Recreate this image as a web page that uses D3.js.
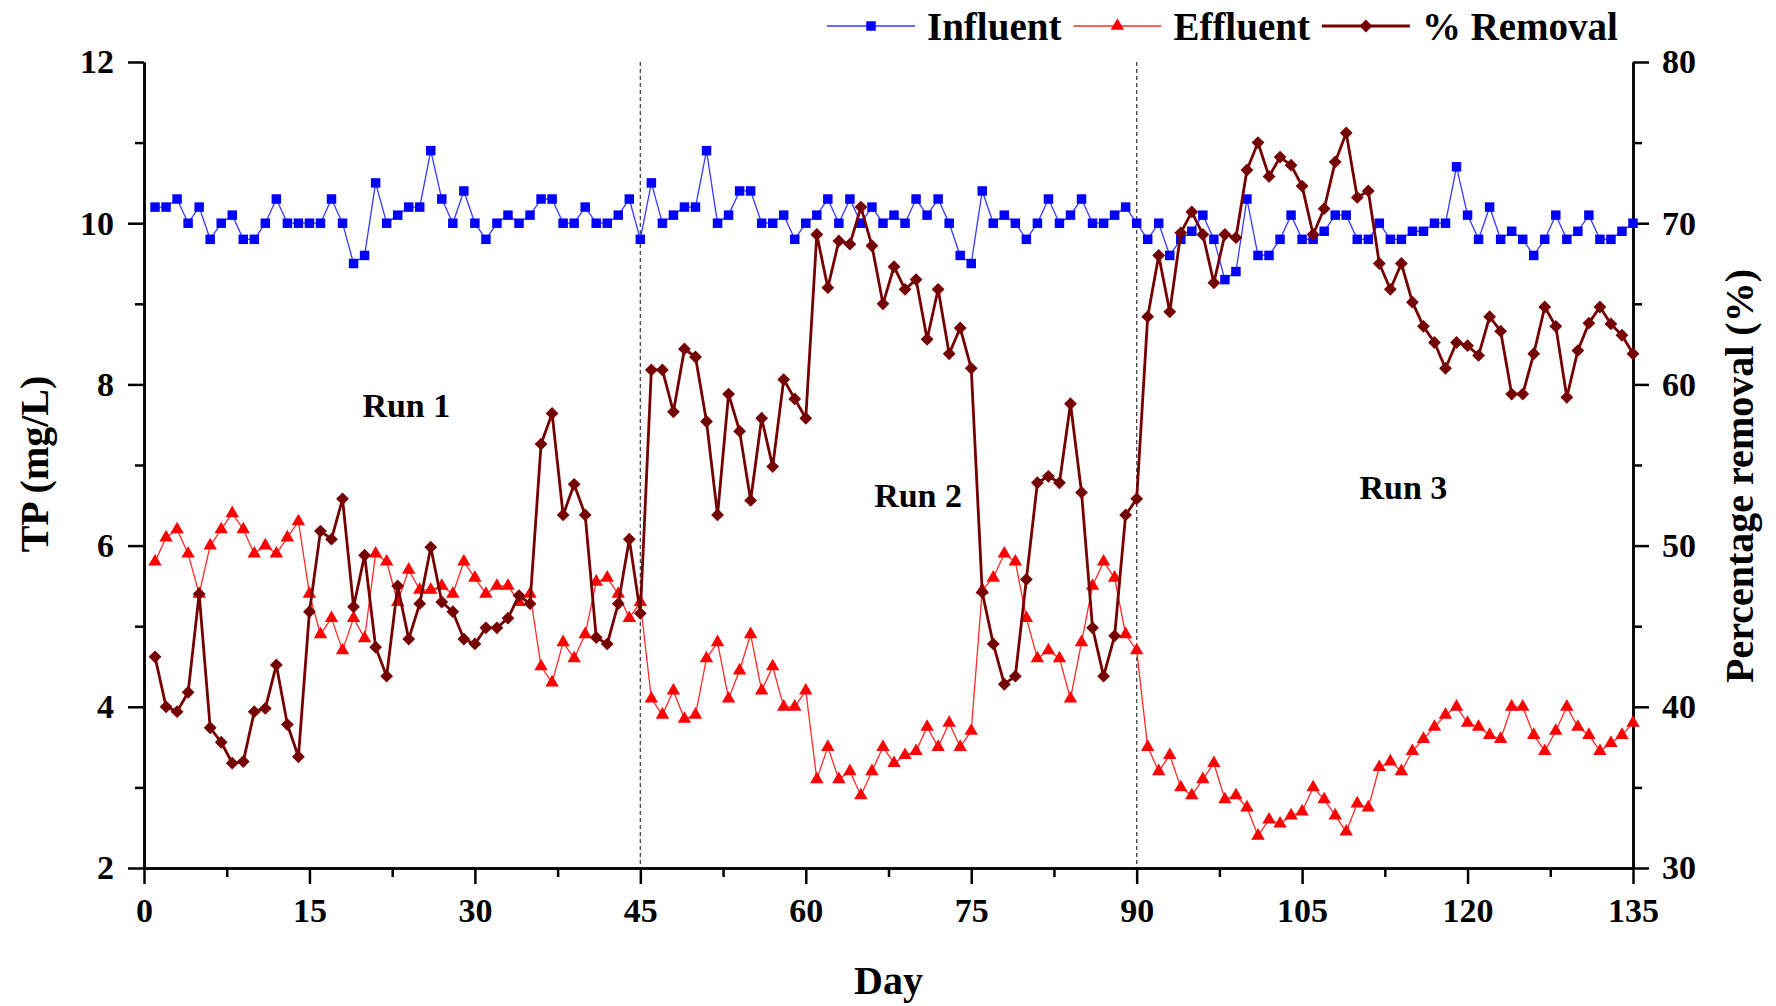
<!DOCTYPE html>
<html>
<head>
<meta charset="UTF-8">
<title>TP influent / effluent / removal</title>
<script src="https://cdnjs.cloudflare.com/ajax/libs/d3/7.8.5/d3.min.js"></script>
<style>
  body { margin: 0; background: #fff; }
  text { font-family: "Liberation Serif", "Times New Roman", serif; font-weight: bold; }
</style>
</head>
<body>
<script>
  // TP (mg/L), day 1..135
  var influent = [
    10.2, 10.2, 10.3, 10.0, 10.2, 9.8, 10.0, 10.1, 9.8, 9.8,
    10.0, 10.3, 10.0, 10.0, 10.0, 10.0, 10.3, 10.0, 9.5, 9.6,
    10.5, 10.0, 10.1, 10.2, 10.2, 10.9, 10.3, 10.0, 10.4, 10.0,
    9.8, 10.0, 10.1, 10.0, 10.1, 10.3, 10.3, 10.0, 10.0, 10.2,
    10.0, 10.0, 10.1, 10.3, 9.8, 10.5, 10.0, 10.1, 10.2, 10.2,
    10.9, 10.0, 10.1, 10.4, 10.4, 10.0, 10.0, 10.1, 9.8, 10.0,
    10.1, 10.3, 10.0, 10.3, 10.0, 10.2, 10.0, 10.1, 10.0, 10.3,
    10.1, 10.3, 10.0, 9.6, 9.5, 10.4, 10.0, 10.1, 10.0, 9.8,
    10.0, 10.3, 10.0, 10.1, 10.3, 10.0, 10.0, 10.1, 10.2, 10.0,
    9.8, 10.0, 9.6, 9.8, 9.9, 10.1, 9.8, 9.3, 9.4, 10.3,
    9.6, 9.6, 9.8, 10.1, 9.8, 9.8, 9.9, 10.1, 10.1, 9.8,
    9.8, 10.0, 9.8, 9.8, 9.9, 9.9, 10.0, 10.0, 10.7, 10.1,
    9.8, 10.2, 9.8, 9.9, 9.8, 9.6, 9.8, 10.1, 9.8, 9.9,
    10.1, 9.8, 9.8, 9.9, 10.0
  ];
  var effluent = [
    5.8, 6.1, 6.2, 5.9, 5.4, 6.0, 6.2, 6.4, 6.2, 5.9,
    6.0, 5.9, 6.1, 6.3, 5.4, 4.9, 5.1, 4.7, 5.1, 4.85,
    5.9, 5.8, 5.3, 5.7, 5.45, 5.45, 5.5, 5.4, 5.8, 5.6,
    5.4, 5.5, 5.5, 5.3, 5.4, 4.5, 4.3, 4.8, 4.6, 4.9,
    5.55, 5.6, 5.4, 5.1, 5.3, 4.1, 3.9, 4.2, 3.85, 3.9,
    4.6, 4.8, 4.1, 4.45, 4.9, 4.2, 4.5, 4.0, 4.0, 4.2,
    3.1, 3.5, 3.1, 3.2, 2.9, 3.2, 3.5, 3.3, 3.4, 3.45,
    3.75, 3.5, 3.8, 3.5, 3.7, 5.45, 5.6, 5.9, 5.8, 5.1,
    4.6, 4.7, 4.6, 4.1, 4.8, 5.5, 5.8, 5.6, 4.9, 4.7,
    3.5, 3.2, 3.4, 3.0, 2.9, 3.1, 3.3, 2.85, 2.9, 2.75,
    2.4, 2.6, 2.55, 2.65, 2.7, 3.0, 2.85, 2.65, 2.45, 2.8,
    2.75, 3.25, 3.32, 3.2, 3.45, 3.6, 3.75, 3.9, 4.0, 3.8,
    3.75, 3.65, 3.6, 4.0, 4.0, 3.65, 3.45, 3.7, 4.0, 3.75,
    3.65, 3.45, 3.55, 3.65, 3.8
  ];
  // percentage removal (%), right axis
  var removal = [
    43.1, 40.0, 39.7, 40.9, 47.0, 38.7, 37.8, 36.5, 36.6, 39.7,
    39.9, 42.6, 38.9, 36.9, 45.9, 50.9, 50.4, 52.9, 46.2, 49.4,
    43.7, 41.9, 47.5, 44.2, 46.4, 49.9, 46.5, 45.9, 44.2, 43.9,
    44.9, 44.9, 45.5, 46.9, 46.4, 56.3, 58.2, 51.9, 53.8, 51.9,
    44.3, 43.9, 46.4, 50.4, 45.8, 60.9, 60.9, 58.3, 62.2, 61.7,
    57.7, 51.9, 59.4, 57.1, 52.8, 57.9, 54.9, 60.3, 59.1, 57.9,
    69.3, 66.0, 68.9, 68.7, 71.0, 68.6, 65.0, 67.3, 65.9, 66.5,
    62.8, 65.9, 61.9, 63.5, 61.0, 47.1, 43.9, 41.4, 41.9, 47.9,
    53.9, 54.3, 53.9, 58.8, 53.3, 44.9, 41.9, 44.4, 51.9, 52.9,
    64.2, 68.0, 64.5, 69.4, 70.7, 69.3, 66.3, 69.3, 69.1, 73.3,
    75.0, 72.9, 74.1, 73.6, 72.3, 69.3, 70.9, 73.8, 75.6, 71.6,
    72.0, 67.5, 65.9, 67.5, 65.1, 63.6, 62.6, 61.0, 62.6, 62.4,
    61.8, 64.2, 63.3, 59.4, 59.4, 61.9, 64.8, 63.6, 59.2, 62.1,
    63.8, 64.8, 63.75, 63.05, 61.9
  ];
  var days = influent.map(function(_, i) { return i + 1; });

  var xTicks = [0, 15, 30, 45, 60, 75, 90, 105, 120, 135];
  var yTicks = [2, 4, 6, 8, 10, 12];
  var pctTicks = [30, 40, 50, 60, 70, 80];
  var runBreaks = [45, 90];
  var runLabels = [
    { text: "Run 1", day: 19.8, tp: 7.59 },
    { text: "Run 2", day: 66.2, tp: 6.48 },
    { text: "Run 3", day: 110.2, tp: 6.58 }
  ];

  var W = 1776, H = 1006;
  var padL = 144, padR = 1633, padT = 62, padB = 868;

  var svg = d3.select("body").append("svg")
    .attr("width", W).attr("height", H);
  svg.append("rect").attr("width", W).attr("height", H).attr("fill", "#fff");

  var x = d3.scaleLinear().domain([0, 135]).range([padL, padR]);
  var y = d3.scaleLinear().domain([2, 12]).range([padB, padT]);
  var y2 = d3.scaleLinear().domain([30, 80]).range([padB, padT]);

  // run separators
  svg.selectAll("line.run").data(runBreaks).enter().append("line")
    .attr("class", "run")
    .attr("x1", x).attr("x2", x)
    .attr("y1", padT).attr("y2", padB)
    .attr("stroke", "#444").attr("stroke-width", 1.3)
    .attr("stroke-dasharray", "4,3");

  // axes: minor ticks first, then major
  function styleAxis(g) {
    g.selectAll("path, line").attr("stroke", "#000").attr("stroke-width", 2.5);
    g.selectAll("text").attr("fill", "#000").style("font-size", "34px");
  }
  function minor(axis, scale, vals) {
    return axis(scale).tickValues(vals).tickSize(9).tickSizeOuter(0).tickFormat("");
  }

  svg.append("g").attr("transform", "translate(0," + padB + ")")
    .call(minor(d3.axisBottom, x, d3.range(7.5, 135, 15))).call(styleAxis);
  svg.append("g").attr("transform", "translate(" + padL + ",0)")
    .call(minor(d3.axisLeft, y, [3, 5, 7, 9, 11])).call(styleAxis);
  svg.append("g").attr("transform", "translate(" + padR + ",0)")
    .call(minor(d3.axisRight, y2, [35, 45, 55, 65, 75])).call(styleAxis);

  svg.append("g").attr("transform", "translate(0," + padB + ")")
    .call(d3.axisBottom(x).tickValues(xTicks).tickSize(16).tickSizeOuter(0).tickPadding(14))
    .call(styleAxis);
  svg.append("g").attr("transform", "translate(" + padL + ",0)")
    .call(d3.axisLeft(y).tickValues(yTicks).tickSize(16).tickSizeOuter(0).tickPadding(14))
    .call(styleAxis);
  svg.append("g").attr("transform", "translate(" + padR + ",0)")
    .call(d3.axisRight(y2).tickValues(pctTicks).tickSize(16).tickSizeOuter(0).tickPadding(13))
    .call(styleAxis);

  // series
  var series = [
    { name: "Influent", values: influent, scale: y, color: "#0000ff", line: "#3a3aff", width: 1.3,
      symbol: d3.symbol().type(d3.symbolSquare).size(90), rot: 0 },
    { name: "Effluent", values: effluent, scale: y, color: "#ff0000", line: "#ff2a2a", width: 1.3,
      symbol: d3.symbol().type(d3.symbolTriangle).size(78), rot: 0 },
    { name: "% Removal", values: removal, scale: y2, color: "#750000", line: "#750000", width: 2.8,
      symbol: d3.symbol().type(d3.symbolSquare).size(82), rot: 45 }
  ];

  series.forEach(function(s) {
    var line = d3.line()
      .x(function(d, i) { return x(days[i]); })
      .y(function(d) { return s.scale(d); });
    svg.append("path").datum(s.values)
      .attr("d", line)
      .attr("fill", "none")
      .attr("stroke", s.line)
      .attr("stroke-width", s.width)
      .attr("stroke-linejoin", "round");
    svg.append("g").selectAll("path").data(s.values).enter().append("path")
      .attr("d", s.symbol)
      .attr("fill", s.color)
      .attr("transform", function(d, i) {
        return "translate(" + x(days[i]) + "," + s.scale(d) + ") rotate(" + s.rot + ")";
      });
  });

  // run labels
  svg.selectAll("text.runlab").data(runLabels).enter().append("text")
    .attr("class", "runlab")
    .attr("x", function(d) { return x(d.day); })
    .attr("y", function(d) { return y(d.tp); })
    .style("font-size", "34px")
    .text(function(d) { return d.text; });

  // axis titles
  svg.append("text")
    .attr("transform", "translate(34,464) rotate(-90)")
    .attr("text-anchor", "middle").attr("dominant-baseline", "central")
    .style("font-size", "40px").text("TP (mg/L)");
  svg.append("text")
    .attr("x", (padL + padR) / 2).attr("y", 994)
    .attr("text-anchor", "middle")
    .style("font-size", "40px").text("Day");
  svg.append("text")
    .attr("transform", "translate(1739,476) rotate(-90)")
    .attr("text-anchor", "middle").attr("dominant-baseline", "central")
    .style("font-size", "40px").text("Percentage removal (%)");

  // legend
  var lg = svg.append("g").attr("transform", "translate(827,26)");
  var lx = 0;
  series.forEach(function(s) {
    var item = lg.append("g").attr("transform", "translate(" + lx + ",0)");
    item.append("line").attr("x1", 0).attr("x2", 88).attr("y1", 0).attr("y2", 0)
      .attr("stroke", s.line).attr("stroke-width", s.width);
    item.append("path").attr("d", s.symbol)
      .attr("fill", s.color)
      .attr("transform", "translate(44,0) rotate(" + s.rot + ")");
    var t = item.append("text").attr("x", 100).attr("y", 0)
      .attr("dominant-baseline", "central")
      .style("font-size", "39px").text(s.name);
    lx += 100 + t.node().getComputedTextLength() + 12;
  });
</script>
</body>
</html>
